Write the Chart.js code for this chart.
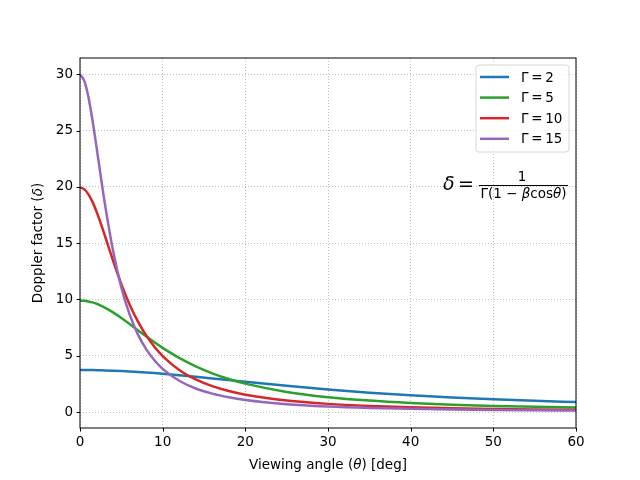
<!DOCTYPE html>
<html>
<head>
<meta charset="utf-8">
<script src="https://cdn.jsdelivr.net/npm/chart.js@4/dist/chart.umd.min.js"></script>
<style>
html,body{margin:0;padding:0;background:#fff;}
#wrap{width:640px;height:480px;}
</style>
</head>
<body>
<div id="wrap"><canvas id="c" width="640" height="480"></canvas></div>
<script>
const angles = [0,0.5,1,1.5,2,2.5,3,4,5,6,7,8,9,10,12,14,16,18,20,25,30,35,40,45,50,55,60];
const delta2  = [3.732,3.731,3.728,3.723,3.717,3.708,3.699,3.674,3.642,3.604,3.561,3.511,3.457,3.398,3.270,3.131,2.985,2.835,2.685,2.324,2.000,1.721,1.486,1.290,1.128,0.994,0.882];
const delta5  = [9.899,9.881,9.827,9.738,9.615,9.461,9.282,8.853,8.357,7.821,7.271,6.725,6.198,5.700,4.806,4.056,3.439,2.934,2.522,1.786,1.320,1.013,0.802,0.651,0.540,0.457,0.392];
const delta10 = [19.95,19.80,19.36,18.69,17.80,16.78,15.68,13.45,11.36,9.557,8.045,6.805,5.793,4.968,3.738,2.893,2.296,1.862,1.538,1.018,0.723,0.541,0.421,0.337,0.277,0.233,0.199];
const delta15 = [29.96,29.46,28.05,25.97,23.53,21.00,18.56,14.32,11.07,8.668,6.900,5.586,4.595,3.835,2.775,2.092,1.631,1.306,1.068,0.697,0.491,0.365,0.283,0.226,0.186,0.156,0.133];
const seriesLabels = ['Γ = 2','Γ = 5','Γ = 10','Γ = 15'];
const seriesValues = [delta2, delta5, delta10, delta15];
const seriesColors = ['#1f77b4','#2ca02c','#d62728','#9467bd'];
const xTicks = [0,10,20,30,40,50,60];
const yTicks = [0,5,10,15,20,25,30];

const FONT = '"DejaVu Sans", sans-serif';

const datasets = seriesValues.map((vals, i) => ({
  label: seriesLabels[i],
  data: angles.map((a, j) => ({x: a, y: vals[j]})),
  borderColor: seriesColors[i],
  backgroundColor: seriesColors[i],
  borderWidth: 2.5,
  pointRadius: 0,
  fill: false,
  cubicInterpolationMode: 'monotone',
  order: seriesValues.length - i
}));

const decor = {
  id: 'decor',
  afterDraw(chart) {
    const ctx = chart.ctx;
    const a = chart.chartArea;
    const xs = chart.scales.x, ys = chart.scales.y;
    ctx.save();
    // frame
    ctx.strokeStyle = '#000';
    ctx.lineWidth = 1;
    ctx.setLineDash([]);
    ctx.strokeRect(a.left, a.top, a.right - a.left, a.bottom - a.top);
    // ticks
    ctx.beginPath();
    xTicks.forEach(v => {
      const px = Math.round(xs.getPixelForValue(v)) + 0.5;
      ctx.moveTo(px, a.bottom); ctx.lineTo(px, a.bottom + 3.5);
    });
    yTicks.forEach(v => {
      const py = Math.round(ys.getPixelForValue(v)) + 0.5;
      ctx.moveTo(a.left, py); ctx.lineTo(a.left - 3.5, py);
    });
    ctx.stroke();

    // axis titles with italic symbols
    ctx.fillStyle = '#000';
    ctx.textBaseline = 'alphabetic';
    const drawMixed = (parts, x, y, center) => {
      let w = 0;
      parts.forEach(p => { ctx.font = p[1] + ' 13.5px ' + FONT; w += ctx.measureText(p[0]).width; });
      let cx = center ? x - w / 2 : x;
      parts.forEach(p => {
        ctx.font = p[1] + ' 13.5px ' + FONT;
        ctx.textAlign = 'left';
        ctx.fillText(p[0], cx, y);
        cx += ctx.measureText(p[0]).width;
      });
    };
    drawMixed([['Viewing angle (',''],['θ','italic'],[') [deg]','']], (a.left + a.right) / 2, 469, true);
    ctx.save();
    ctx.translate(42, (a.top + a.bottom) / 2);
    ctx.rotate(-Math.PI / 2);
    drawMixed([['Doppler factor (',''],['δ','italic'],[')','']], 0, 0, true);
    ctx.restore();

    // legend
    const lx = 476, ly = 65, lw = 93, lh = 87;
    ctx.fillStyle = 'rgba(255,255,255,0.8)';
    ctx.strokeStyle = '#d6d6d6';
    ctx.lineWidth = 1;
    const r = 3;
    ctx.beginPath();
    ctx.moveTo(lx + r, ly);
    ctx.arcTo(lx + lw, ly, lx + lw, ly + lh, r);
    ctx.arcTo(lx + lw, ly + lh, lx, ly + lh, r);
    ctx.arcTo(lx, ly + lh, lx, ly, r);
    ctx.arcTo(lx, ly, lx + lw, ly, r);
    ctx.closePath();
    ctx.fill();
    ctx.stroke();
    seriesLabels.forEach((lab, i) => {
      const yy = 77 + i * 20.6;
      ctx.strokeStyle = seriesColors[i];
      ctx.lineWidth = 2.5;
      ctx.beginPath();
      ctx.moveTo(480, yy); ctx.lineTo(509, yy);
      ctx.stroke();
      ctx.fillStyle = '#000';
      ctx.font = '13.5px ' + FONT;
      ctx.textAlign = 'left';
      ctx.textBaseline = 'middle';
      ctx.fillText(lab.replace(/ /g, '\u2009'), 521, yy + 1);
    });

    // formula
    ctx.textBaseline = 'alphabetic';
    ctx.fillStyle = '#000';
    ctx.font = 'italic 19px ' + FONT;
    ctx.textAlign = 'left';
    ctx.fillText('δ', 443, 190);
    ctx.font = '19px ' + FONT;
    ctx.fillText('=', 458, 190);
    ctx.strokeStyle = '#000';
    ctx.lineWidth = 1;
    ctx.beginPath();
    ctx.moveTo(479, 185.5); ctx.lineTo(568, 185.5);
    ctx.stroke();
    ctx.font = '13.5px ' + FONT;
    ctx.textAlign = 'center';
    ctx.fillText('1', 522, 181);
    const den = [['Γ(1 − ',''],['β','italic'],['cos',''],['θ','italic'],[')','']];
    let dw = 0;
    den.forEach(p => { ctx.font = p[1] + ' 13.5px ' + FONT; dw += ctx.measureText(p[0]).width; });
    let dx = 523.5 - dw / 2;
    ctx.textAlign = 'left';
    den.forEach(p => { ctx.font = p[1] + ' 13.5px ' + FONT; ctx.fillText(p[0], dx, 198); dx += ctx.measureText(p[0]).width; });
    ctx.restore();
  }
};

new Chart(document.getElementById('c'), {
  type: 'line',
  data: { datasets },
  options: {
    responsive: false,
    animation: false,
    devicePixelRatio: 1,
    layout: { padding: { top: 58, right: 64, left: 0, bottom: 0 } },
    plugins: { legend: { display: false }, tooltip: { enabled: false } },
    scales: {
      x: {
        type: 'linear',
        min: 0, max: 60,
        afterFit(s) { s.height = 52; },
        afterBuildTicks(s) { s.ticks = xTicks.map(v => ({value: v})); },
        grid: { color: '#b0b0b0', lineWidth: 0.8, drawTicks: false },
        border: { display: false, dash: [1, 2] },
        ticks: { padding: 6, color: '#000', font: { family: FONT, size: 13.5 }, maxRotation: 0 }
      },
      y: {
        type: 'linear',
        min: -1.42, max: 31.45,
        afterFit(s) { s.width = 80; },
        afterBuildTicks(s) { s.ticks = yTicks.map(v => ({value: v})); },
        grid: { color: '#b0b0b0', lineWidth: 0.8, drawTicks: false },
        border: { display: false, dash: [1, 2] },
        ticks: { padding: 7, color: '#000', font: { family: FONT, size: 13.5 } }
      }
    }
  },
  plugins: [decor]
});
</script>
</body>
</html>
